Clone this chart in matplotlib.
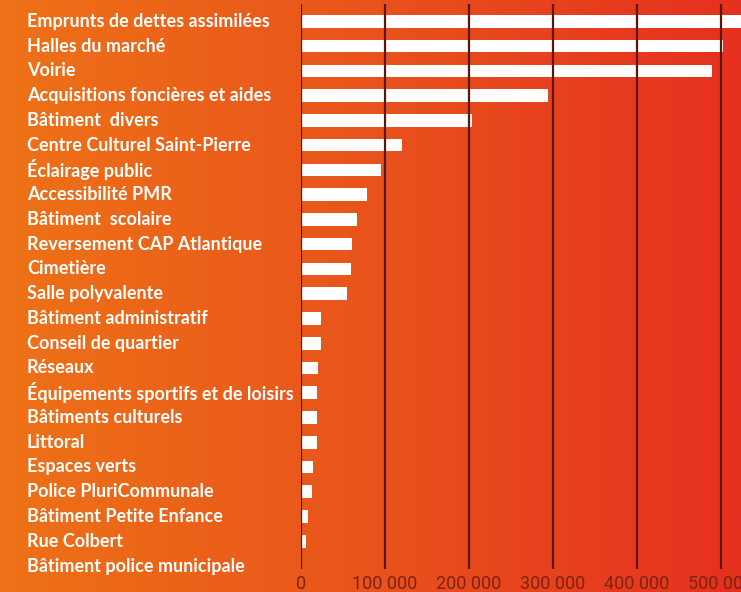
"""
Horizontal bar chart of investment spending by category
"""

import numpy as np
import matplotlib.pyplot as plt
from matplotlib.colors import LinearSegmentedColormap
from matplotlib.ticker import FuncFormatter

categories = [
    "Emprunts de dettes assimilées",
    "Halles du marché",
    "Voirie",
    "Acquisitions foncières et aides",
    "Bâtiment  divers",
    "Centre Culturel Saint-Pierre",
    "Éclairage public",
    "Accessibilité PMR",
    "Bâtiment  scolaire",
    "Reversement CAP Atlantique",
    "Cimetière",
    "Salle polyvalente",
    "Bâtiment administratif",
    "Conseil de quartier",
    "Réseaux",
    "Équipements sportifs et de loisirs",
    "Bâtiments culturels",
    "Littoral",
    "Espaces verts",
    "Police PluriCommunale",
    "Bâtiment Petite Enfance",
    "Rue Colbert",
    "Bâtiment police municipale",
]
amounts = [
    560000, 502000, 489000, 294000, 204000, 120000, 95600, 79000,
    66300, 60300, 59200, 54400, 24400, 23400, 19800, 19400, 19400,
    19400, 13900, 12700, 8000, 5600, 0,
]
x_ticks = [0, 100000, 200000, 300000, 400000, 500000]

W, H = 741, 592
fig = plt.figure(figsize=(W / 100, H / 100), dpi=100)

# background gradient, orange to red
bg = fig.add_axes([0, 0, 1, 1], zorder=-10)
cmap = LinearSegmentedColormap.from_list("bg", ["#EE7217", "#E9531C", "#E5301F"])
bg.imshow(np.linspace(0, 1, 256)[None, :], cmap=cmap, aspect="auto",
          extent=[0, 1, 0, 1])
bg.set_axis_off()

left_px, top_px, bottom_px = 301, 4, 569
ax = fig.add_axes([left_px / W, 1 - bottom_px / H,
                   1 - left_px / W, (bottom_px - top_px) / H])
ax.patch.set_alpha(0)

y = np.arange(len(categories))
ax.barh(y, amounts, height=0.51, color="white", zorder=1)

ax.set_xlim(0, (W - left_px) / 84 * 100000)
ax.set_ylim(22.12, -0.7)

ax.set_xticks(x_ticks)
ax.xaxis.set_major_formatter(FuncFormatter(lambda v, _: f"{int(v):,}".replace(",", " ")))
ax.tick_params(axis="x", length=0, pad=4, labelsize=13, labelcolor="#7E2211")
for lbl in ax.get_xticklabels():
    lbl.set_fontfamily("Roboto")
    lbl.set_fontweight("normal")
ax.set_yticks([])
ax.set_axisbelow(False)
ax.xaxis.grid(True, color="#5A1608", linewidth=1.6)
for s in ax.spines.values():
    s.set_visible(False)

trans = ax.get_yaxis_transform()
for yi, name in zip(y, categories):
    ax.text((27 - left_px) / (W - left_px), yi, name, transform=trans,
            ha="left", va="center", color="white", fontsize=13,
            fontweight="bold", family="Lato", clip_on=False)

fig.savefig("out.png", dpi=100)
